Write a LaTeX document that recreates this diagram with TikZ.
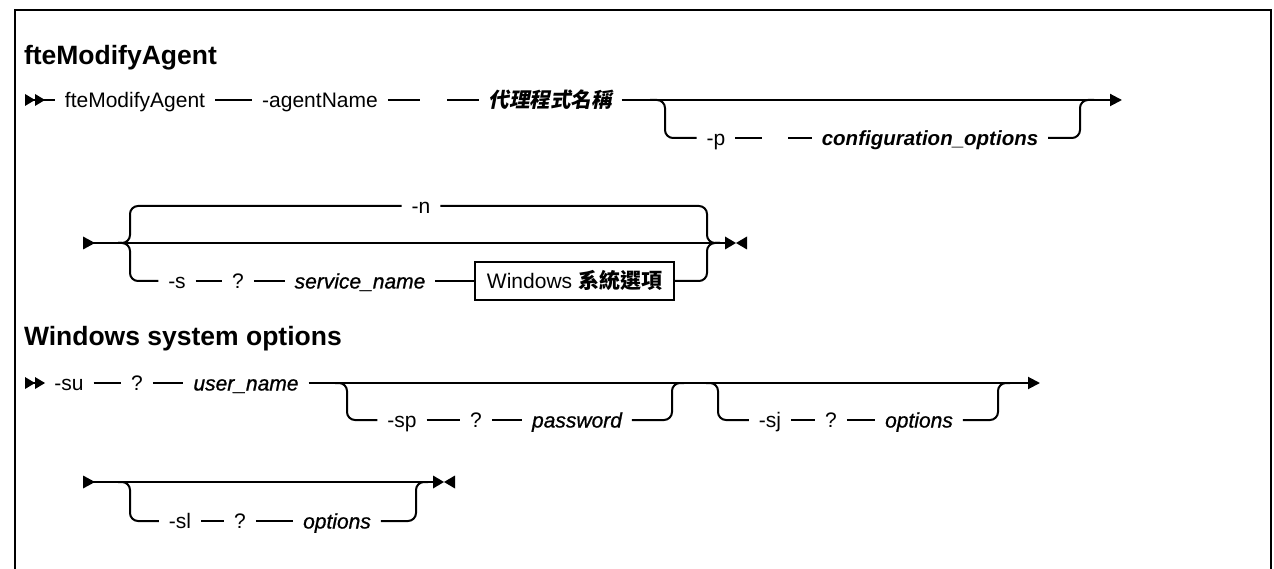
\documentclass[tikz,border=0pt]{standalone}
\usepackage{fontspec}
\setmainfont{Liberation Sans}
\newfontfamily\medfont[FakeBold=0.9]{Liberation Sans}
\newfontfamily\cjk{Noto Sans CJK TC}
\newfontfamily\cjksl[FakeSlant=0.2]{Noto Sans CJK TC}
\usetikzlibrary{arrows.meta}
\begin{document}
\begin{tikzpicture}[x=1pt,y=-1pt,line width=2pt,
  lbl/.style={font=\fontsize{21}{25}\selectfont, inner xsep=9pt, inner ysep=0pt, text height=20pt, text depth=5pt},
  var/.style={lbl, font=\fontsize{21}{25}\selectfont\medfont\itshape},
  varb/.style={lbl, font=\fontsize{20.5}{25}\selectfont\bfseries\itshape},
  ttl/.style={font=\fontsize{26.5}{30}\selectfont\bfseries, anchor=base west, inner sep=0pt},
  boxref/.style={lbl, draw, line width=1.6pt, inner xsep=12pt, minimum height=38pt},
  arr/.style={-{Triangle[length=12pt,width=12pt]}},
  rc/.style={rounded corners=8pt},
  dblstart/.pic={\fill (0,-6) -- (10,0) -- (0,6) -- cycle; \fill (10,-6) -- (20,0) -- (10,6) -- cycle;},
  startmark/.pic={\fill (0,-6.5) -- (12,0) -- (0,6.5) -- cycle;},
  endmark/.pic={\fill (0,-6.5) -- (11,0) -- (0,6.5) -- cycle; \fill (22,-6.5) -- (11,0) -- (22,6.5) -- cycle;}
]
\useasboundingbox (0,0) rectangle (1274,569);
% frame
\draw[line width=2.5pt] (15,575) -- (15,10) -- (1271,10) -- (1271,575);

% ---------- titles
\node[ttl] (t1) at (23,65) {fteModifyAgent};
\node[ttl] (t2) at (23,345) {Windows system options};

% ---------- row 1
\coordinate (r1s) at (25,100);
\pic at (r1s) {dblstart};
\node[lbl] (fma) at (135,100) {fteModifyAgent};
\node[lbl] (agn) at (320,100) {-agentName};
\coordinate (g1a) at (420,100);
\coordinate (g1b) at (447,100);
\node[varb] (aname) at (550,100) {\cjksl\bfseries 代理程式名稱};
\coordinate (r1e) at (1122,100);
\draw (r1s) -- (fma);
\draw (fma) -- (agn);
\draw (agn) -- (g1a);
\draw (g1b) -- (aname);
\draw[arr] (aname) -- (r1e);
\node[lbl] (pp) at (716,138) {-p};
\coordinate (g2a) at (762,138);
\coordinate (g2b) at (788,138);
\node[varb] (conf) at (930,138) {configuration\_options};
\draw[rc] (650,100) -- (665,100) -- (665,138) -- (pp);
\draw (pp) -- (g2a);
\draw (g2b) -- (conf);
\draw[rc] (conf) -- (1080,138) -- (1080,100) -- (1094,100);

% ---------- row 2
\coordinate (r2s) at (83,243);
\coordinate (r2e) at (725,243);
\draw (r2s) -- (r2e);
\pic at (r2s) {startmark};
\pic at (r2e) {endmark};
\node[lbl] (nn) at (421,206) {-n};
\draw[rc] (118,243) -- (130,243) -- (130,206) -- (nn);
\draw[rc] (nn) -- (707,206) -- (707,243) -- (720,243);
\node[lbl] (ss) at (177,281) {-s};
\node[lbl] (q2) at (238,281) {?};
\node[var] (svc) at (360,281) {service\_name};
\node[boxref] (wso) at (574.5,281) {Windows {\cjk\bfseries 系統選項}};
\draw[rc] (118,243) -- (130,243) -- (130,281) -- (ss);
\draw (ss) -- (q2);
\draw (q2) -- (svc);
\draw (svc) -- (wso);
\draw[rc] (wso) -- (707,281) -- (707,243) -- (720,243);

% ---------- row 3
\coordinate (r3s) at (25,383);
\pic at (r3s) {dblstart};
\node[lbl] (su) at (69,383) {-su};
\node[lbl] (q3) at (137,383) {?};
\node[var] (usr) at (246,383) {user\_name};
\coordinate (r3e) at (1040,383);
\draw (r3s) -- (su);
\draw (su) -- (q3);
\draw (q3) -- (usr);
\draw[arr] (usr) -- (r3e);
\node[lbl] (sp) at (402,420) {-sp};
\node[lbl] (q4) at (476,420) {?};
\node[var] (pwd) at (577,420) {password};
\draw[rc] (335,383) -- (347,383) -- (347,420) -- (sp);
\draw (sp) -- (q4);
\draw (q4) -- (pwd);
\draw[rc] (pwd) -- (672,420) -- (672,383) -- (684,383);
\node[lbl] (sj) at (770,420) {-sj};
\node[lbl] (q5) at (831,420) {?};
\node[var] (opt1) at (919,420) {options};
\draw[rc] (706,383) -- (718,383) -- (718,420) -- (sj);
\draw (sj) -- (q5);
\draw (q5) -- (opt1);
\draw[rc] (opt1) -- (998,420) -- (998,383) -- (1010,383);

% ---------- row 4
\coordinate (r4s) at (83,482);
\coordinate (r4e) at (433,482);
\draw (r4s) -- (r4e);
\pic at (r4s) {startmark};
\pic at (r4e) {endmark};
\node[lbl] (sl) at (180,521) {-sl};
\node[lbl] (q6) at (240,521) {?};
\node[var] (opt2) at (337,521) {options};
\draw[rc] (118,482) -- (130,482) -- (130,521) -- (sl);
\draw (sl) -- (q6);
\draw (q6) -- (opt2);
\draw[rc] (opt2) -- (416,521) -- (416,482) -- (428,482);
\end{tikzpicture}
\end{document}
